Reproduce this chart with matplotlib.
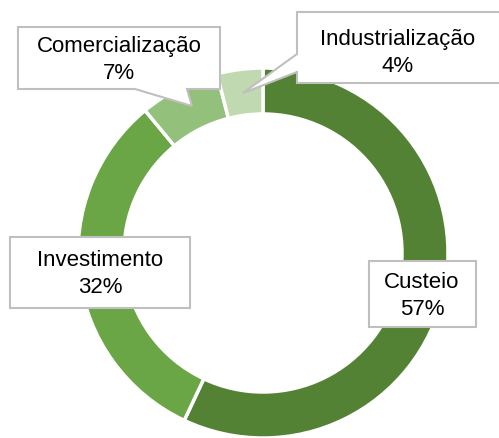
import matplotlib.pyplot as plt
from matplotlib.patches import Polygon

plt.rcParams['font.family'] = ['Liberation Sans', 'DejaVu Sans']

categorias = ['Custeio', 'Investimento', 'Comercialização', 'Industrialização']
valores = [57, 32, 7, 4]
cores = ['#548235', '#6aa645', '#93c07b', '#c0d9b1']

W, H = 499, 439

fig = plt.figure(figsize=(W / 100, H / 100), dpi=100)
ax = fig.add_axes([0, 0, 1, 1])

# donut, center in pixel coords (y flipped)
cx, cy, r = 263, H - 254, 185
ax.pie(valores, colors=cores, startangle=90, counterclock=False,
       center=(cx, cy), radius=r,
       wedgeprops=dict(width=46, edgecolor='white', linewidth=2.5))
ax.set_xlim(0, W)
ax.set_ylim(0, H)
ax.set_aspect('equal')
ax.axis('off')


def caixa(pts, xt, yt, txt):
    pts = [(x, H - y) for x, y in pts]
    ax.add_patch(Polygon(pts, closed=True, facecolor='white',
                         edgecolor='#bfbfbf', linewidth=1.5, zorder=5))
    ax.text(xt, H - yt, txt, ha='center', va='center', fontsize=16,
            linespacing=1.4, color='black', zorder=6)


pct = {c: f'{c}\n{v}%' for c, v in zip(categorias, valores)}

# Comercialização (callout down)
caixa([(18, 28), (220, 28), (220, 90), (187, 90), (192, 107), (135, 90), (18, 90)],
      119, 60, pct['Comercialização'])
# Industrialização (callout left)
caixa([(297, 13), (500, 13), (500, 84), (297, 84), (297, 73), (243, 94), (297, 55)],
      398, 53, pct['Industrialização'])
# Investimento
caixa([(10, 238), (190, 238), (190, 309), (10, 309)],
      100, 274, pct['Investimento'])
# Custeio
caixa([(369, 262), (476, 262), (476, 328), (369, 328)],
      422, 296, pct['Custeio'])

fig.savefig('out.png', dpi=100)
